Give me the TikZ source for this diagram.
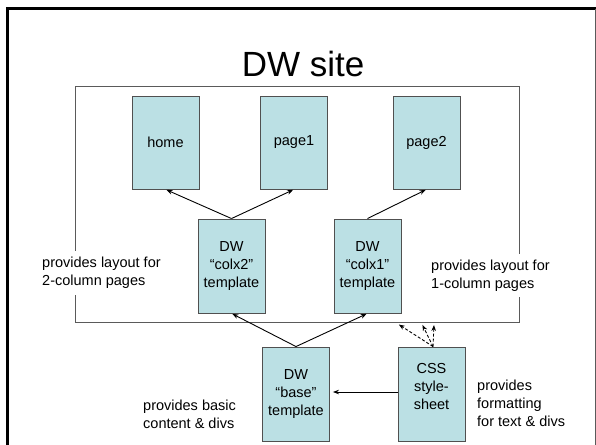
\documentclass[tikz,border=0pt]{standalone}
\usepackage{fontspec}
\setmainfont{Liberation Sans}
\usetikzlibrary{arrows.meta}
\definecolor{boxfill}{RGB}{187,224,228}
\definecolor{boxline}{RGB}{80,80,80}
\definecolor{frameline}{RGB}{90,90,90}
\tikzset{
  pagebox/.style={draw=boxline, line width=0.9pt, fill=boxfill, minimum width=67pt, minimum height=94pt, inner sep=0pt, align=center, font=\fontsize{14.5}{18}\selectfont},
  lbl/.style={fill=white, inner xsep=0pt, inner ysep=6pt, align=left, font=\fontsize{14.5}{18}\selectfont},
  arr/.style={line width=0.9pt, -{Stealth[length=6pt,width=4.5pt]}, shorten >=1pt},
  darr/.style={arr, dash pattern=on 3pt off 2pt}
}
\begin{document}
\begin{tikzpicture}[x=1pt,y=-1pt]
\fill[white] (0,0) rectangle (596,444);
\useasboundingbox (0,0) rectangle (596,444);
% slide frame
\draw[line width=2.7pt] (7.3,446) -- (7.3,8.7) -- (596,8.7);
\draw[frameline, line width=1pt] (595,8.7) -- (595,446);
% title
\node[anchor=base, inner sep=0pt, font=\fontsize{35}{40}\selectfont] (title) at (303,76) {DW site};
% site frame
\node[draw=frameline, line width=1pt, minimum width=444pt, minimum height=236pt, inner sep=0pt] (site) at (297,204) {};
% side labels
\node[lbl, anchor=west] (l2col) at (42,273) {provides layout for\\2-column pages};
\node[lbl, anchor=west] (l1col) at (431,275.5) {provides layout for\\1-column pages};
\node[lbl, anchor=west] (lbase) at (143,414) {provides basic\\content \& divs};
\node[lbl, anchor=west] (lcss) at (477,403) {provides\\formatting\\for text \& divs};
% pages
\node[pagebox, minimum height=93pt] (home) at (165.5,142.5) {home};
\node[pagebox, minimum height=93pt] (page1) at (294,142.5) {page1};
\node[pagebox, minimum height=93pt] (page2) at (426.5,142.5) {page2};
% templates
\node[pagebox] (colx2) at (231.5,266) {DW\\“colx2”\\template};
\node[pagebox] (colx1) at (367.5,266) {DW\\“colx1”\\template};
\node[pagebox] (base) at (296,394) {DW\\“base”\\template};
\node[pagebox] (css) at (431.5,394) {};
\node[inner sep=0pt, align=center, font=\fontsize{14.5}{18}\selectfont] (csstext) at ([yshift=7.5pt]css.center) {CSS\\style-\\sheet};
% arrows
\draw[arr] (colx2.north) -- (home.south);
\draw[arr] (colx2.north) -- (page1.south);
\draw[arr] (colx1.north) -- (page2.south);
\draw[arr] (base.north) -- (colx2.south);
\draw[arr] (base.north) -- (colx1.south);
\draw[arr, shorten >=3pt] ([yshift=2pt]css.west) -- ([yshift=2pt]base.east);
\coordinate (d1) at (398,324);
\coordinate (d2) at (422,324);
\coordinate (d3) at (434,324);
\draw[darr] ([xshift=1.5pt]css.north) -- (d1);
\draw[darr] ([xshift=1.5pt]css.north) -- (d2);
\draw[darr] ([xshift=1.5pt]css.north) -- (d3);
\end{tikzpicture}
\end{document}
